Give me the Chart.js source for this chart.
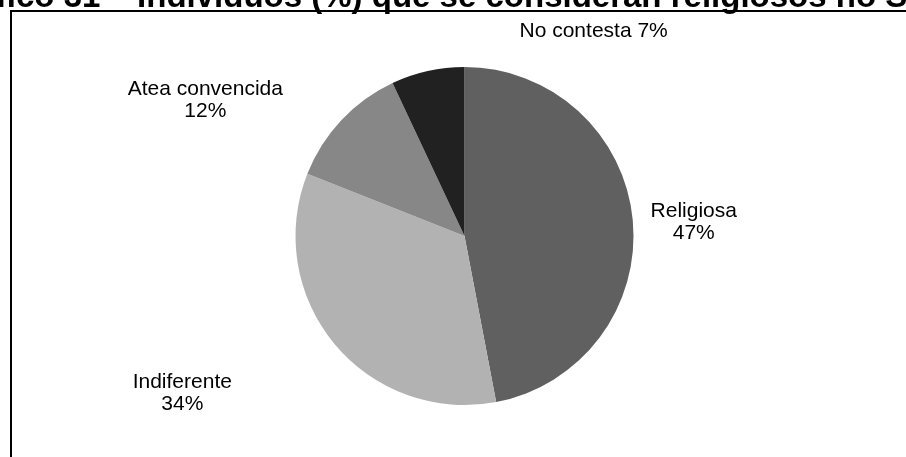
<!DOCTYPE html>
<html>
<head>
<meta charset="utf-8">
<script src="https://cdn.jsdelivr.net/npm/chart.js@4.4.0/dist/chart.umd.min.js"></script>
<style>
  html, body { margin: 0; padding: 0; background: #ffffff; }
  #wrap { position: relative; width: 906px; height: 457px; overflow: hidden; }
</style>
</head>
<body>
<div id="wrap"><canvas id="pie-chart" width="906" height="457"></canvas></div>
<script>
// Chart data
const categories = ['Religiosa', 'Indiferente', 'Atea convencida', 'No contesta'];
const percentages = [47, 34, 12, 7];
const sliceColors = ['#606060', '#b2b2b2', '#878787', '#212121'];

const titleText = 'Gráfico 31 – Individuos (%) que se consideran religiosos no Sector';

// Label placement: offset (px) from the slice's outer mid-point, and line layout
const labelOffsets = [[61, 2], [-152, 49], [-136, -20], [166, -40]];
const singleLineLabels = [false, false, false, true];
const labelFont = '21px "Liberation Sans", Arial, sans-serif';
const lineGap = 22;

// Title (mostly clipped above the frame) and the frame lines
const framePlugin = {
  id: 'frame',
  beforeDraw(chart) {
    const ctx = chart.ctx;
    ctx.save();
    ctx.fillStyle = '#ffffff';
    ctx.fillRect(0, 0, chart.width, chart.height);
    ctx.fillStyle = '#000000';
    ctx.font = 'bold 33px "Liberation Sans", Arial, sans-serif';
    ctx.textAlign = 'left';
    ctx.textBaseline = 'alphabetic';
    ctx.fillText(titleText, -61, 7);
    ctx.strokeStyle = '#000000';
    ctx.lineWidth = 2;
    ctx.beginPath();
    ctx.moveTo(chart.width, 11);
    ctx.lineTo(11, 11);
    ctx.lineTo(11, chart.height);
    ctx.stroke();
    ctx.restore();
  }
};

// Category / percentage labels around the pie
const sliceLabelPlugin = {
  id: 'sliceLabels',
  afterDatasetsDraw(chart) {
    const ctx = chart.ctx;
    const meta = chart.getDatasetMeta(0);
    ctx.save();
    ctx.fillStyle = '#000000';
    ctx.font = labelFont;
    ctx.textAlign = 'center';
    ctx.textBaseline = 'middle';
    meta.data.forEach((arc, i) => {
      const p = arc.getProps(['x', 'y', 'startAngle', 'endAngle', 'outerRadius'], true);
      const mid = (p.startAngle + p.endAngle) / 2;
      const ax = p.x + Math.cos(mid) * p.outerRadius + labelOffsets[i][0];
      const ay = p.y + Math.sin(mid) * p.outerRadius + labelOffsets[i][1];
      const value = chart.data.datasets[0].data[i] + '%';
      if (singleLineLabels[i]) {
        ctx.fillText(categories[i] + ' ' + value, ax, ay);
      } else {
        ctx.fillText(categories[i], ax, ay - lineGap / 2);
        ctx.fillText(value, ax, ay + lineGap / 2);
      }
    });
    ctx.restore();
  }
};

new Chart(document.getElementById('pie-chart').getContext('2d'), {
  type: 'pie',
  data: {
    labels: categories,
    datasets: [{
      data: percentages,
      backgroundColor: sliceColors,
      borderWidth: 0
    }]
  },
  options: {
    responsive: false,
    animation: false,
    layout: {
      padding: { top: 67, bottom: 52, left: 23, right: 0 }
    },
    plugins: {
      legend: { display: false },
      tooltip: { enabled: false }
    }
  },
  plugins: [framePlugin, sliceLabelPlugin]
});
</script>
</body>
</html>
